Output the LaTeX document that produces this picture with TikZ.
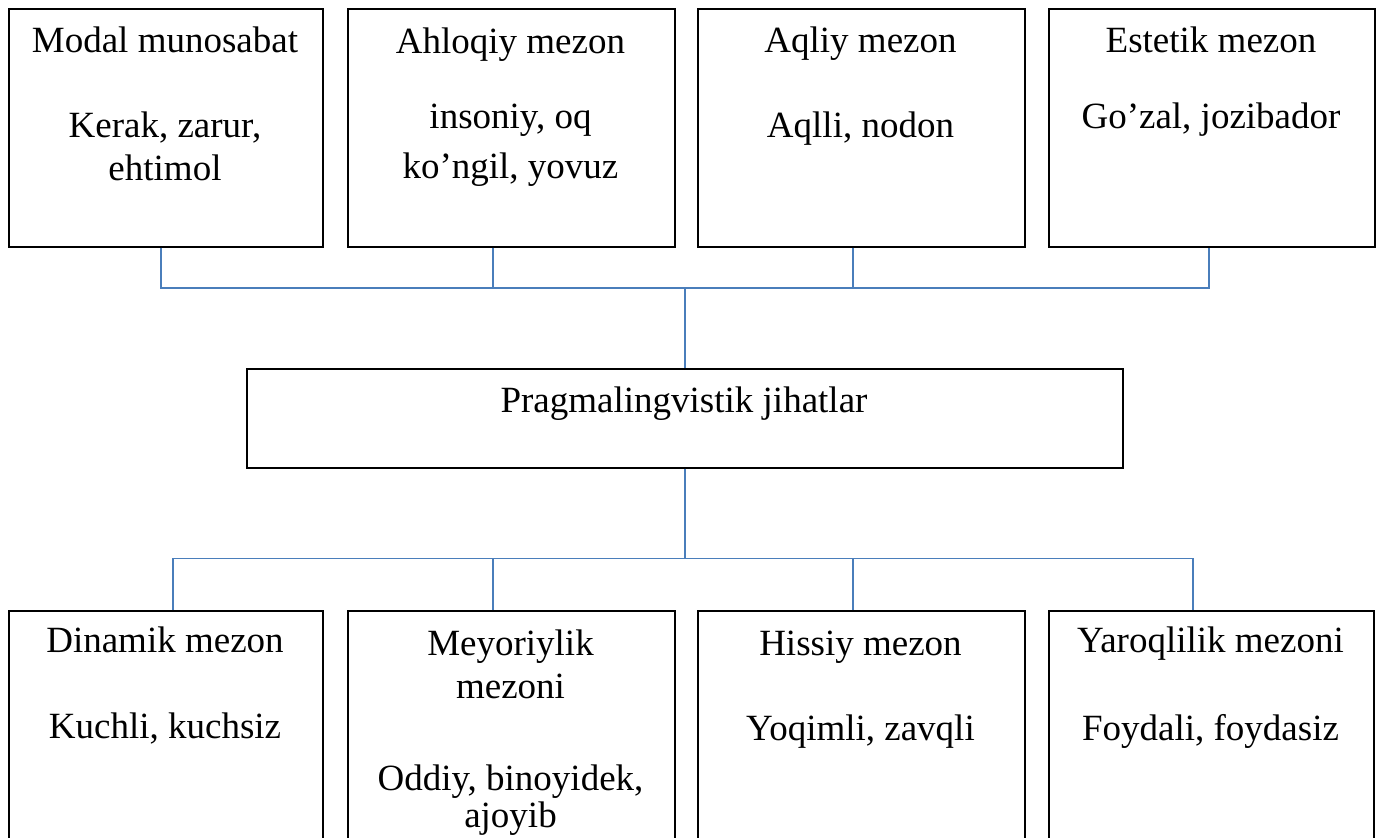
\documentclass[tikz,border=0pt]{standalone}
\usepackage{fontspec}
\setmainfont{Liberation Serif}
\definecolor{linkblue}{RGB}{74,126,187}
\tikzset{
  box/.style={draw=black, line width=1.6pt, rectangle, inner sep=0pt, anchor=north west},
  ln/.style={anchor=base, inner sep=0pt, font=\fontsize{37}{43}\selectfont},
  conn/.style={draw=linkblue, line width=1.6pt}
}
\begin{document}
\begin{tikzpicture}[x=1pt,y=-1pt]
\useasboundingbox (0,0) rectangle (1379,838);
\fill[white] (0,0) rectangle (1379,838);
% top boxes
\node[box, minimum width=314pt, minimum height=238pt] (t1) at (8,8) {};
\node[box, minimum width=327pt, minimum height=238pt] (t2) at (347,8) {};
\node[box, minimum width=327pt, minimum height=238pt] (t3) at (697,8) {};
\node[box, minimum width=326pt, minimum height=238pt] (t4) at (1048,8) {};
% middle box
\node[box, minimum width=876pt, minimum height=99pt] (mid) at (246,368) {};
% bottom boxes
\node[box, minimum width=314pt, minimum height=250pt] (b1) at (8,610) {};
\node[box, minimum width=327pt, minimum height=250pt] (b2) at (347,610) {};
\node[box, minimum width=327pt, minimum height=250pt] (b3) at (697,610) {};
\node[box, minimum width=325pt, minimum height=250pt] (b4) at (1048,610) {};
% texts top
\node[ln] (t1a) at (165,52) {Modal munosabat};
\node[ln] (t1b) at (165,137) {Kerak, zarur,};
\node[ln] (t1c) at (165,180) {ehtimol};
\node[ln] (t2a) at (510.5,53) {Ahloqiy mezon};
\node[ln] (t2b) at (510.5,128) {insoniy, oq};
\node[ln] (t2c) at (510.5,178) {ko’ngil, yovuz};
\node[ln] (t3a) at (860.5,52) {Aqliy mezon};
\node[ln] (t3b) at (860.5,137) {Aqlli, nodon};
\node[ln] (t4a) at (1211,52) {Estetik mezon};
\node[ln] (t4b) at (1211,128) {Go’zal, jozibador};
% middle text
\node[ln] (ma) at (684,412) {Pragmalingvistik jihatlar};
% texts bottom
\node[ln] (b1a) at (165,652) {Dinamik mezon};
\node[ln] (b1b) at (165,738) {Kuchli, kuchsiz};
\node[ln] (b2a) at (510.5,655) {Meyoriylik};
\node[ln] (b2b) at (510.5,698) {mezoni};
\node[ln] (b2c) at (510.5,790) {Oddiy, binoyidek,};
\node[ln] (b2d) at (510.5,827) {ajoyib};
\node[ln] (b3a) at (860.5,655) {Hissiy mezon};
\node[ln] (b3b) at (860.5,740) {Yoqimli, zavqli};
\node[ln] (b4a) at (1210.5,652) {Yaroqlilik mezoni};
\node[ln] (b4b) at (1210.5,740) {Foydali, foydasiz};
% connectors
\coordinate (tb) at ([yshift=80pt]mid.north);
\coordinate (bb) at ([yshift=-90pt]mid.south);
\draw[conn] ([xshift=-5pt]t1.south) |- (tb) -| ([xshift=-3pt]t4.south);
\draw[conn] ([xshift=-18.5pt]t2.south) -- ([xshift=-18.5pt]t2.south |- tb);
\draw[conn] ([xshift=-8.5pt]t3.south) -- ([xshift=-8.5pt]t3.south |- tb);
\draw[conn] (tb) -- (mid.north);
\draw[conn] (mid.south) -- (bb);
\draw[conn] ([xshift=7pt]b1.north) |- (bb) -| ([xshift=-18.5pt]b4.north);
\draw[conn] ([xshift=-18.5pt]b2.north) -- ([xshift=-18.5pt]b2.north |- bb);
\draw[conn] ([xshift=-8.5pt]b3.north) -- ([xshift=-8.5pt]b3.north |- bb);
\end{tikzpicture}
\end{document}
